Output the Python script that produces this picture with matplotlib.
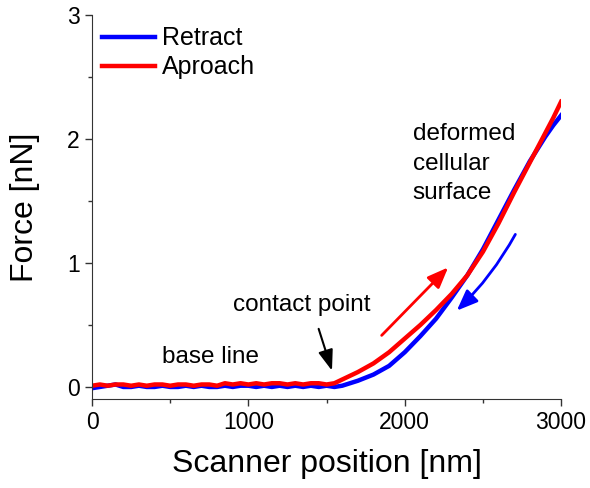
import matplotlib.pyplot as plt
from matplotlib.ticker import MultipleLocator

plt.rcParams['font.family'] = ['Liberation Sans', 'DejaVu Sans']

# baseline section, every 50 nm
base_x = list(range(0, 1600, 50))
red_base = [0.01, 0.02, 0.01, 0.02, 0.02, 0.01, 0.02, 0.01, 0.02, 0.02, 0.01, 0.02,
            0.02, 0.01, 0.02, 0.02, 0.01, 0.03, 0.02, 0.03, 0.02, 0.03, 0.02, 0.03,
            0.03, 0.02, 0.03, 0.02, 0.03, 0.03, 0.02, 0.03]
blue_base = [-0.01, 0.00, 0.01, 0.02, 0.00, 0.00, 0.01, 0.00, 0.00, 0.01, 0.00, 0.00,
             0.01, 0.00, 0.01, 0.00, 0.00, 0.01, 0.00, 0.01, 0.01, 0.00, 0.01, 0.00,
             0.01, 0.00, 0.01, 0.00, 0.01, 0.00, 0.01, 0.00]

# indentation section
rise_x = [1600, 1700, 1800, 1900, 2000, 2100, 2200, 2300, 2400, 2500,
          2600, 2700, 2800, 2900, 2950, 3000]
red_rise = [0.06, 0.12, 0.19, 0.28, 0.39, 0.50, 0.62, 0.75, 0.90, 1.09,
            1.32, 1.57, 1.81, 2.05, 2.17, 2.30]
blue_rise = [0.01, 0.05, 0.10, 0.17, 0.28, 0.41, 0.55, 0.72, 0.90, 1.11,
             1.35, 1.59, 1.82, 2.02, 2.11, 2.19]

red_x = base_x + rise_x
red_y = red_base + red_rise
blue_x = base_x + rise_x
blue_y = blue_base + blue_rise

fig = plt.figure(figsize=(5.9, 4.88), dpi=100)
ax = fig.add_axes([0.156, 0.1824, 0.795, 0.787])

ax.plot(blue_x, blue_y, color='#0000ff', linewidth=3.2, label='Retract')
ax.plot(red_x, red_y, color='#ff0000', linewidth=3.2, label='Aproach')

ax.set_xlim(0, 3000)
ax.set_ylim(-0.097, 3)
ax.xaxis.set_major_locator(MultipleLocator(1000))
ax.xaxis.set_minor_locator(MultipleLocator(500))
ax.yaxis.set_major_locator(MultipleLocator(1))
ax.yaxis.set_minor_locator(MultipleLocator(0.5))
ax.tick_params(which='major', direction='out', length=5, width=1, labelsize=16.5,
               color='#333333', pad=4)
ax.tick_params(which='minor', direction='out', length=3, width=1, color='#333333')
for side in ['top', 'right']:
    ax.spines[side].set_visible(False)
for side in ['left', 'bottom']:
    ax.spines[side].set_color('#333333')

ax.set_xlabel('Scanner position [nm]', fontsize=23)
ax.set_ylabel('Force [nN]', fontsize=23)
ax.xaxis.set_label_coords(0.5, -0.130)
ax.yaxis.set_label_coords(-0.111, 0.5)

ax.legend(loc='upper left', frameon=False, fontsize=18, handlelength=2.1,
          handletextpad=0.3, borderaxespad=0.0, labelspacing=0.2,
          bbox_to_anchor=(0.0, 0.996))

ax.text(755, 0.24, 'base line', fontsize=17.5, ha='center', va='center')
ax.text(1342, 0.66, 'contact point', fontsize=17.5, ha='center', va='center')
ax.text(2051, 1.80, 'deformed\ncellular\nsurface', fontsize=17.5, ha='left',
        va='center', linespacing=1.45)

ax.annotate('', xy=(1540, 0.11), xytext=(1444, 0.49),
            arrowprops=dict(arrowstyle='-|>,head_length=0.7,head_width=0.25',
                            color='black', lw=1.5, mutation_scale=18))
ax.annotate('', xy=(2290, 0.98), xytext=(1840, 0.40),
            arrowprops=dict(arrowstyle='-|>,head_length=0.7,head_width=0.28',
                            color='#ff0000', lw=2, mutation_scale=18))
ax.annotate('', xy=(2320, 0.60), xytext=(2716, 1.25),
            arrowprops=dict(arrowstyle='-|>,head_length=0.7,head_width=0.28',
                            color='#0000ff', lw=2, mutation_scale=18,
                            connectionstyle='arc3,rad=-0.08'))

fig.savefig('out.png', dpi=100)
plt.close(fig)
